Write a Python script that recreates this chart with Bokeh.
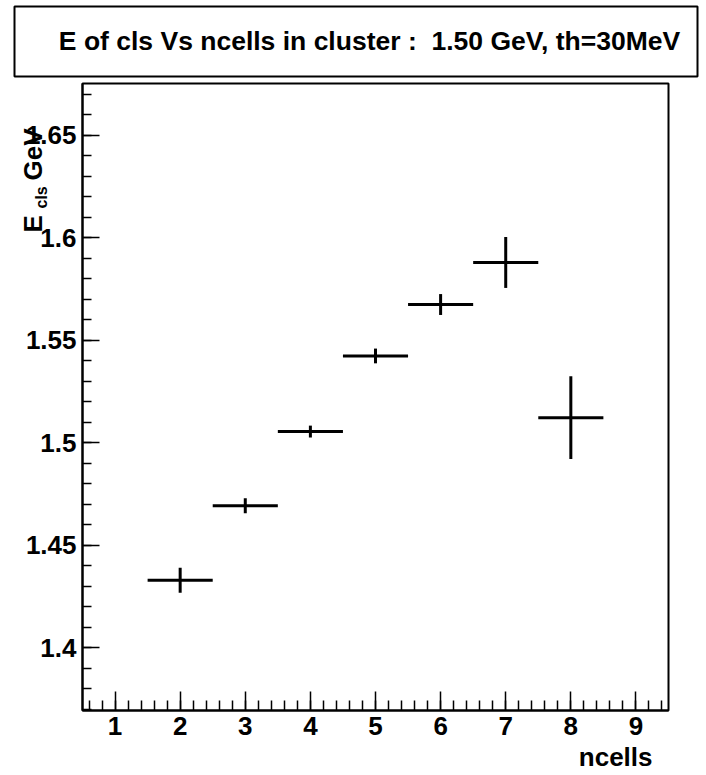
import math
from bokeh.plotting import figure
from bokeh.models import (Range1d, SingleIntervalTicker, CustomJSTickFormatter,
                          Label, BoxAnnotation, ColumnDataSource)
from bokeh.embed import file_html
from bokeh.resources import INLINE

# ---- data ----
ncells = [2, 3, 4, 5, 6, 7, 8]
e_cls = [1.4329, 1.4692, 1.5054, 1.5423, 1.5674, 1.5879, 1.5122]
e_err = [0.0061, 0.0036, 0.0029, 0.0036, 0.0051, 0.0124, 0.0202]
bin_half = 0.5
x_lim = (0.5, 9.5)
y_lim = (1.36928, 1.67526)
title_text = "E of cls Vs ncells in cluster :\u00a0 1.50 GeV, th=30MeV"
x_title = "ncells"
y_title_main = "E"
y_title_sub = "cls"
y_title_unit = "GeV"

FONT = "Liberation Sans"
W, H = 706, 775

p = figure(width=W, height=H, output_backend="svg", toolbar_location=None,
           x_range=Range1d(*x_lim), y_range=Range1d(*y_lim),
           min_border_left=82, min_border_right=38, min_border_top=83,
           min_border_bottom=65, title=None)
p.background_fill_color = "white"
p.border_fill_color = "white"
p.outline_line_color = "black"
p.outline_line_width = 2
p.grid.visible = False

src = ColumnDataSource(dict(
    x=ncells,
    y=e_cls,
    x0=[v - bin_half for v in ncells],
    x1=[v + bin_half for v in ncells],
    y0=[a - b for a, b in zip(e_cls, e_err)],
    y1=[a + b for a, b in zip(e_cls, e_err)],
))
p.segment(x0="x0", y0="y", x1="x1", y1="y", source=src, line_color="black", line_width=3)
p.segment(x0="x", y0="y0", x1="x", y1="y1", source=src, line_color="black", line_width=3)

for ax in (p.xaxis[0], p.yaxis[0]):
    ax.axis_line_color = "black"
    ax.axis_line_width = 2
    ax.major_tick_line_color = "black"
    ax.minor_tick_line_color = "black"
    ax.major_tick_line_width = 1.5
    ax.minor_tick_line_width = 1.5
    ax.major_tick_out = 0
    ax.minor_tick_out = 0
    ax.major_label_text_font = FONT
    ax.major_label_text_font_style = "bold"
    ax.major_label_text_font_size = "26px"
    ax.major_label_text_color = "black"

p.xaxis[0].ticker = SingleIntervalTicker(interval=1, num_minor_ticks=5)
p.xaxis[0].major_tick_in = 19
p.xaxis[0].minor_tick_in = 10
p.xaxis[0].major_label_standoff = 6

p.yaxis[0].ticker = SingleIntervalTicker(interval=0.05, num_minor_ticks=5)
p.yaxis[0].major_tick_in = 17
p.yaxis[0].minor_tick_in = 9
p.yaxis[0].major_label_standoff = 6
p.yaxis[0].formatter = CustomJSTickFormatter(code="return Number(tick.toFixed(3)).toString();")

# ---- transparent overlay figure carrying the titles (frame = whole canvas) ----
ov = figure(width=W, height=H, output_backend="svg", toolbar_location=None,
            x_range=Range1d(0, W), y_range=Range1d(0, H),
            x_axis_type=None, y_axis_type=None, min_border=0, title=None,
            margin=(-H, 0, 0, 0))
ov.background_fill_color = None
ov.border_fill_color = None
ov.outline_line_color = None
ov.grid.visible = False

def lab(text, cx, cy, size, angle=0.0, align="left"):
    # cx, cy: canvas pixels from top-left
    return Label(x=cx, y=H - cy, x_units="screen", y_units="screen", text=text, angle=angle,
                 text_align=align, text_baseline="alphabetic",
                 text_font=FONT, text_font_style="bold", text_font_size=size,
                 text_color="black")

ov.add_layout(BoxAnnotation(left=14, right=697, top=H - 6, bottom=H - 76,
                            left_units="screen", right_units="screen",
                            top_units="screen", bottom_units="screen",
                            fill_color=None, fill_alpha=0,
                            line_color="black", line_width=2, line_alpha=1.0))
ov.add_layout(lab(title_text, 369, 40, "26.5px", align="center"))
ov.add_layout(lab(y_title_main, 32, 232, "26px", angle=math.pi / 2))
ov.add_layout(lab(y_title_sub, 41, 208, "16px", angle=math.pi / 2))
ov.add_layout(lab(y_title_unit, 32, 180, "26px", angle=math.pi / 2))
ov.add_layout(lab(x_title, 652, 756, "26px", align="right"))

open("out.html", "w").write(file_html([p, ov], INLINE))
